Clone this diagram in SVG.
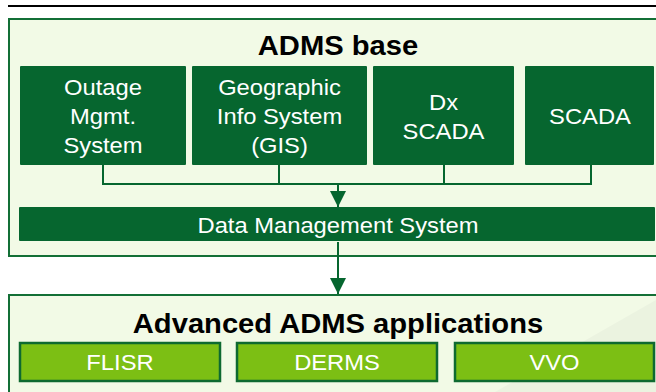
<svg xmlns="http://www.w3.org/2000/svg" width="656" height="392" viewBox="0 0 656 392">
  <style>
    .panel { fill: #F2FAE6; stroke: #136F36; stroke-width: 2; }
    .module { fill: #06662F; }
    .app { fill: #7CBF14; stroke: #0E6A30; stroke-width: 2.5; }
    .title { font-family: "Liberation Sans", Arial, sans-serif; font-weight: bold; font-size: 27px; fill: #000; text-anchor: middle; }
    .label { font-family: "Liberation Sans", Arial, sans-serif; font-size: 22px; fill: #fff; text-anchor: middle; }
    .wire { fill: none; stroke: #06662F; stroke-width: 2; }
  </style>
  <defs>
    <marker id="arrow" viewBox="0 0 16 16" refX="16" refY="8" markerWidth="16" markerHeight="16" markerUnits="userSpaceOnUse" orient="auto">
      <path d="M0,0 L16,8 L0,16 Z" fill="#06662F"/>
    </marker>
  </defs>

  <rect width="656" height="392" fill="#fff"/>

  <!-- header rule -->
  <line x1="8" y1="6" x2="656" y2="6" stroke="#000" stroke-width="2"/>

  <!-- ADMS base panel -->
  <g id="adms-base">
    <rect class="panel" x="9" y="19" width="660" height="237"/>
    <text class="title" transform="matrix(1.08 0 0 1 338 55)">ADMS base</text>
  </g>

  <!-- Advanced applications panel -->
  <g id="adms-applications">
    <rect class="panel" x="9" y="295" width="660" height="120"/>
    <polygon points="656,300 656,392 495,392" fill="#EBF3E0"/>
    <text class="title" transform="matrix(1.08 0 0 1 338 333)">Advanced ADMS applications</text>
  </g>

  <g id="oms">
    <rect class="module" x="20" y="66" width="166" height="99" rx="1"/>
    <text class="label" transform="matrix(1.08 0 0 1 103 95)">Outage</text>
    <text class="label" transform="matrix(1.08 0 0 1 103 124)">Mgmt.</text>
    <text class="label" transform="matrix(1.08 0 0 1 103 153)">System</text>
  </g>

  <g id="gis">
    <rect class="module" x="192" y="66" width="175" height="99" rx="1"/>
    <text class="label" transform="matrix(1.08 0 0 1 279.5 95)">Geographic</text>
    <text class="label" transform="matrix(1.08 0 0 1 279.5 124)">Info System</text>
    <text class="label" transform="matrix(1.08 0 0 1 279.5 153)">(GIS)</text>
  </g>

  <g id="dx-scada">
    <rect class="module" x="373" y="66" width="141" height="99" rx="1"/>
    <text class="label" transform="matrix(1.08 0 0 1 443.5 110)">Dx</text>
    <text class="label" transform="matrix(1.08 0 0 1 443.5 139)">SCADA</text>
  </g>

  <g id="scada">
    <rect class="module" x="525" y="66" width="129" height="99" rx="1"/>
    <text class="label" transform="matrix(1.08 0 0 1 590 124)">SCADA</text>
  </g>

  <g id="dms">
    <rect class="module" x="19" y="207" width="636" height="34" rx="1"/>
    <text class="label" transform="matrix(1.08 0 0 1 338 233)">Data Management System</text>
  </g>

  <g id="flisr">
    <rect class="app" x="20" y="343" width="200" height="38"/>
    <text class="label" transform="matrix(1.08 0 0 1 120 370)">FLISR</text>
  </g>

  <g id="derms">
    <rect class="app" x="237" y="343" width="200" height="38"/>
    <text class="label" transform="matrix(1.08 0 0 1 337 370)">DERMS</text>
  </g>

  <g id="vvo">
    <rect class="app" x="455" y="343" width="199" height="38"/>
    <text class="label" transform="matrix(1.08 0 0 1 554.5 370)">VVO</text>
  </g>

  <!-- connectors -->
  <g id="connectors">
    <path class="wire" d="M103,165 V184 H591 V165 M279,165 V184 M444,165 V184"/>
    <line class="wire" x1="338" y1="184" x2="338" y2="207" marker-end="url(#arrow)"/>
    <line class="wire" x1="338" y1="242" x2="338" y2="294" marker-end="url(#arrow)"/>
  </g>
</svg>
